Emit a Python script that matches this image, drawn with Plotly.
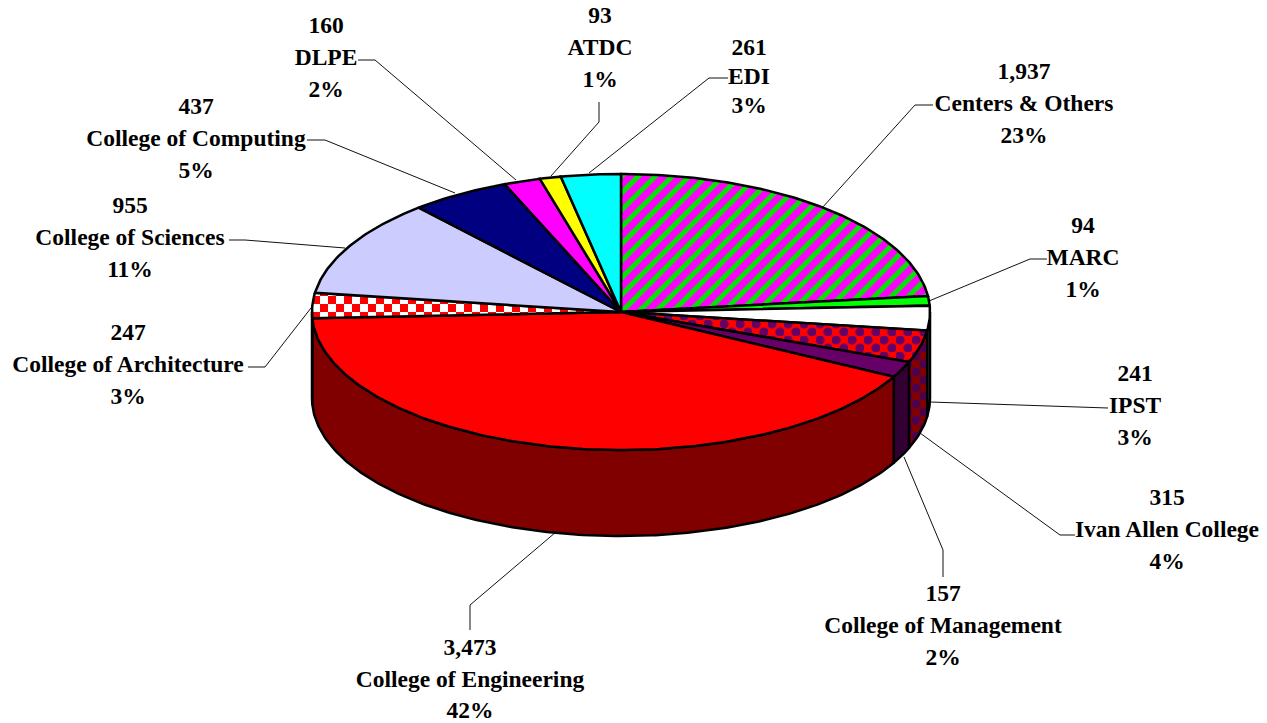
import math
import plotly.graph_objects as go

names = ["Centers & Others", "MARC", "IPST", "Ivan Allen College", "College of Management",
         "College of Engineering", "College of Architecture", "College of Sciences",
         "College of Computing", "DLPE", "ATDC", "EDI"]
values = [1937, 94, 241, 315, 157, 3473, 247, 955, 437, 160, 93, 261]
percents = ["23%", "1%", "3%", "4%", "2%", "42%", "3%", "11%", "5%", "2%", "1%", "3%"]
top_colors = ["#FF00FF", "#00FF00", "#FFFFFF", "#FF0000", "#660066", "#FF0000",
              "#FFFFFF", "#CCCCFF", "#000080", "#FF00FF", "#FFFF00", "#00FFFF"]
side_colors = ["#800080", "#008000", "#A8A8A8", "#800000", "#330033", "#800000",
               "#808080", "#666680", "#000040", "#800080", "#808000", "#008080"]

CHECKER = "M0,0H8V8H0Z M8,8H16V16H8Z"
BUBBLES = ("M-0.6,4a4.6,4.6 0 1,0 9.2,0a4.6,4.6 0 1,0 -9.2,0Z "
           "M7.4,12a4.6,4.6 0 1,0 9.2,0a4.6,4.6 0 1,0 -9.2,0Z")

patterns = {
    "Centers & Others": ("/", None, "#00E800", "#007000", 12, 0.42),
    "Ivan Allen College": (None, BUBBLES, "#660066", "#4D004D", 16, 1),
    "College of Architecture": (None, CHECKER, "#FF0000", "#800000", 16, 1),
}

label_x = [1024, 1083, 1135, 1167, 943, 470, 128, 130, 196, 326, 600, 749]
label_y = [73.5, 227.5, 375.5, 499.5, 595.5, 649.5, 334.5, 207.5, 108.5, 27.5, 17.5, 49.5]
label_gap = [32, 32, 32, 32, 32, 31.5, 32, 32, 32, 32, 32, 29]

leader_x = [[822, 915, 933], [929, 1030, 1047], [930, 1095, 1108], [920, 1060, 1075],
            [904, 943, 943], [556, 470, 470], [311, 265, 248], [345, 245, 229],
            [455, 325, 307], [516, 375, 358], [551, 599, 599], [589, 709, 728]]
leader_y = [[208, 105, 105], [301, 259, 259], [402, 408, 408], [433, 535, 535],
            [457, 550, 577], [532, 605, 630], [308, 367, 367], [248, 240, 240],
            [193, 140, 140], [180, 60, 60], [176, 122, 102], [173, 78, 78]]

CX, CY, RX, RY, DEPTH = 621, 312, 309, 138, 86
FONT = dict(family="Liberation Serif", size=23.5, color="black")


def pt(theta, drop=0):
    return CX + RX * math.sin(theta), CY - RY * math.cos(theta) + drop


def arc(a, b, drop=0):
    n = max(2, int(abs(b - a) / math.radians(0.75)))
    return [pt(a + (b - a) * i / n, drop) for i in range(n + 1)]


def fill_kwargs(name, color, on_side):
    if name in patterns:
        shape, path, fg, fg_side, size, solidity = patterns[name]
        spec = dict(fgcolor=fg_side if on_side else fg, bgcolor=color, size=size,
                    solidity=solidity, fillmode="replace")
        if path:
            spec["path"] = path
        else:
            spec["shape"] = shape
        return dict(fillcolor=color, fillpattern=spec)
    return dict(fillcolor=color)


total = sum(values)
angles = [0]
for v in values:
    angles.append(angles[-1] + v / total * 2 * math.pi)

fig = go.Figure()

for lx, ly in zip(leader_x, leader_y):
    fig.add_trace(go.Scatter(x=lx, y=ly, mode="lines", line=dict(color="#111111", width=1),
                             hoverinfo="skip", showlegend=False))

for i, name in enumerate(names):
    a = max(angles[i], math.pi / 2)
    b = min(angles[i + 1], 3 * math.pi / 2)
    if b <= a:
        continue
    poly = arc(a, b) + arc(b, a, DEPTH)
    poly.append(poly[0])
    fig.add_trace(go.Scatter(x=[p[0] for p in poly], y=[p[1] for p in poly], mode="lines",
                             fill="toself", line=dict(color="black", width=2.5),
                             hoverinfo="skip", showlegend=False,
                             **fill_kwargs(name, side_colors[i], True)))

for i, name in enumerate(names):
    poly = [(CX, CY)] + arc(angles[i], angles[i + 1]) + [(CX, CY)]
    fig.add_trace(go.Scatter(x=[p[0] for p in poly], y=[p[1] for p in poly], mode="lines",
                             fill="toself", line=dict(color="black", width=2.5),
                             hoverinfo="skip", showlegend=False,
                             **fill_kwargs(name, top_colors[i], False)))

for i, name in enumerate(names):
    rows = [f"{values[i]:,}", name, percents[i]]
    fig.add_trace(go.Scatter(x=[label_x[i]] * 3,
                             y=[label_y[i] + k * label_gap[i] for k in range(3)],
                             mode="text", text=[f"<b>{r}</b>" for r in rows],
                             textposition="middle center", textfont=FONT,
                             hoverinfo="skip", showlegend=False, cliponaxis=False))

fig.update_layout(width=1267, height=723, margin=dict(l=0, r=0, t=0, b=0),
                  paper_bgcolor="white", plot_bgcolor="white", showlegend=False,
                  xaxis=dict(range=[0, 1267], visible=False, fixedrange=True),
                  yaxis=dict(range=[723, 0], visible=False, fixedrange=True))
fig.write_html("out.html", config=dict(displayModeBar=False),
               post_script="document.body.style.margin='0';document.documentElement.style.overflow='hidden';")
